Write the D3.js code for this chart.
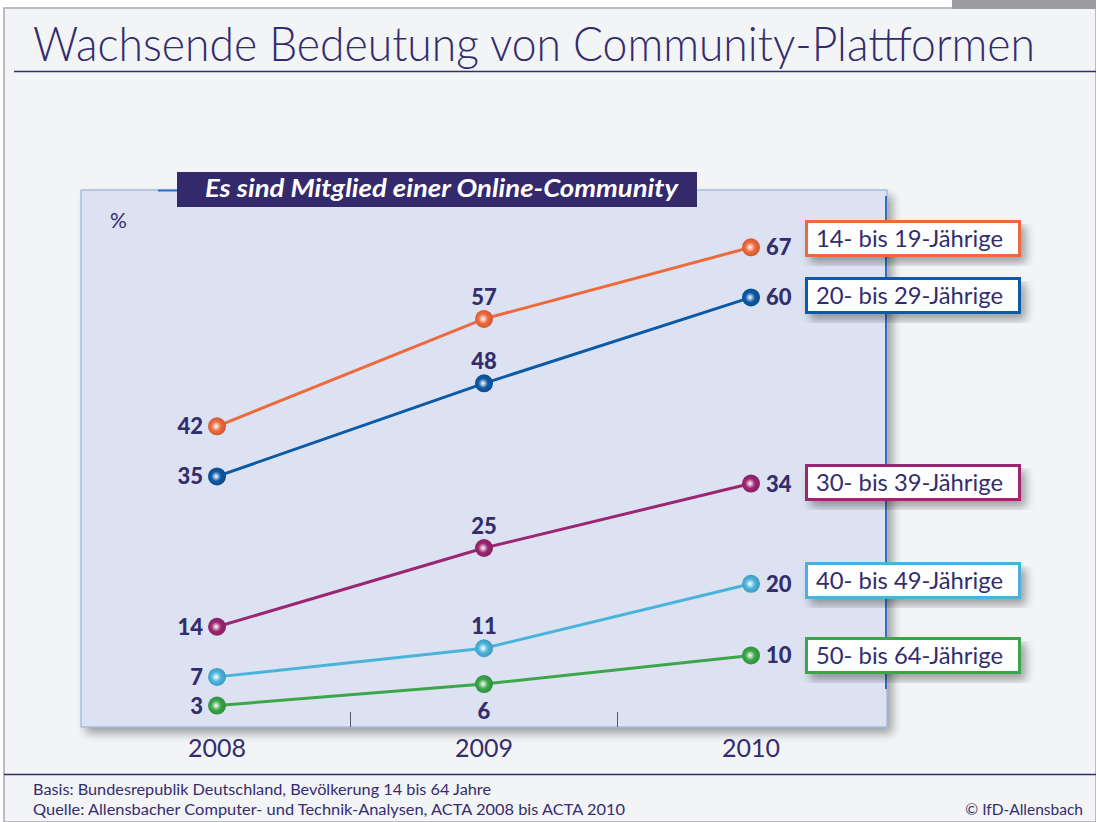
<!DOCTYPE html>
<html>
<head>
<meta charset="utf-8">
<script src="https://cdn.jsdelivr.net/npm/d3@7"></script>
<style>
  html, body { margin: 0; padding: 0; background: #fff; }
  text { font-family: "Lato", "Open Sans", sans-serif; }
</style>
</head>
<body>
<div id="chart"></div>
<script>
// data
var years = ["2008", "2009", "2010"];
var groups = ["14- bis 19-Jährige", "20- bis 29-Jährige", "30- bis 39-Jährige", "40- bis 49-Jährige", "50- bis 64-Jährige"];
var v14bis19 = [42, 57, 67];
var v20bis29 = [35, 48, 60];
var v30bis39 = [14, 25, 34];
var v40bis49 = [7, 11, 20];
var v50bis64 = [3, 6, 10];
var colors = ["#f0693d", "#0c5aa6", "#9c2672", "#4ab3dc", "#3ba64a"];
// where the 2009 label goes (above / below the point)
var midPos = ["above", "above", "above", "above", "below"];

var series = [v14bis19, v20bis29, v30bis39, v40bis49, v50bis64].map(function(v, i) {
  return { name: groups[i], values: v, color: colors[i], mid: midPos[i] };
});

var W = 1096, H = 822;
var ink = "#332d6e";

var svg = d3.select("#chart").append("svg")
  .attr("width", W).attr("height", H);

var defs = svg.append("defs");
var shadow = defs.append("filter").attr("id", "shadow")
  .attr("x", "-10%").attr("y", "-10%").attr("width", "130%").attr("height", "140%");
shadow.append("feGaussianBlur").attr("in", "SourceAlpha").attr("stdDeviation", 5);
shadow.append("feOffset").attr("dx", 5).attr("dy", 6).attr("result", "b");
shadow.append("feComponentTransfer").append("feFuncA").attr("type", "linear").attr("slope", 0.35);
var m = shadow.append("feMerge");
m.append("feMergeNode");
m.append("feMergeNode").attr("in", "SourceGraphic");

series.forEach(function(s, i) {
  var g = defs.append("radialGradient").attr("id", "ball" + i)
    .attr("cx", "0.45").attr("cy", "0.5").attr("r", "0.6").attr("fx", "0.45").attr("fy", "0.5");
  g.append("stop").attr("offset", "0%").attr("stop-color", "#ffffff");
  g.append("stop").attr("offset", "45%").attr("stop-color", s.color);
  g.append("stop").attr("offset", "100%").attr("stop-color", d3.color(s.color).darker(0.6));
});

// page frame
svg.append("rect").attr("width", W).attr("height", H).attr("fill", "#fff");
svg.append("rect").attr("x", 4).attr("y", 8).attr("width", W - 4).attr("height", H - 8)
  .attr("fill", "#f3f4f6").attr("stroke", "#a9a9ad").attr("stroke-width", 1.5);
svg.append("rect").attr("x", 952).attr("y", 0).attr("width", W - 952).attr("height", 9)
  .attr("fill", "#9b9ba0");

// title
svg.append("text").attr("x", 33).attr("y", 61)
  .attr("fill", ink).attr("font-size", 47).attr("font-weight", 300)
  .attr("textLength", 1002).attr("lengthAdjust", "spacingAndGlyphs")
  .text("Wachsende Bedeutung von Community-Plattformen");
svg.append("line").attr("x1", 14).attr("x2", W).attr("y1", 71.5).attr("y2", 71.5)
  .attr("stroke", ink).attr("stroke-width", 1.5);

// plot area
var plot = { left: 81, right: 887, top: 190, bottom: 727 };

var x = d3.scalePoint().domain(years).range([217, 751]);
var y = d3.scaleLinear().domain([0, 75]).range([plot.bottom, plot.top]);

svg.append("rect")
  .attr("x", plot.left).attr("y", plot.top)
  .attr("width", plot.right - plot.left).attr("height", plot.bottom - plot.top)
  .attr("fill", "#dce2f1").attr("stroke", "#86a9da").attr("stroke-width", 1)
  .attr("filter", "url(#shadow)");
svg.append("line").attr("x1", plot.right - 1).attr("x2", plot.right - 1)
  .attr("y1", plot.top + 6).attr("y2", plot.bottom - 38)
  .attr("stroke", "#2f6fbf").attr("stroke-width", 2);
svg.append("line").attr("x1", 158).attr("x2", 180).attr("y1", plot.top + 0.5).attr("y2", plot.top + 0.5)
  .attr("stroke", "#2f6fbf").attr("stroke-width", 2);

// header box
svg.append("rect").attr("x", 177).attr("y", 172).attr("width", 520).attr("height", 35)
  .attr("fill", "#33296b");
svg.append("text").attr("x", 205).attr("y", 197)
  .attr("fill", "#fff").attr("font-size", 24).attr("font-weight", "bold").attr("font-style", "italic")
  .attr("textLength", 473).attr("lengthAdjust", "spacingAndGlyphs")
  .text("Es sind Mitglied einer Online-Community");

svg.append("text").attr("x", 110).attr("y", 228).attr("fill", ink).attr("font-size", 21)
  .text("%");

// x axis: ticks between categories, labels below
var step = x.step();
var between = years.slice(1).map(function(d) { return x(d) - step / 2; });
svg.selectAll(".tick-mid").data(between).enter().append("line")
  .attr("x1", function(d) { return d; }).attr("x2", function(d) { return d; })
  .attr("y1", plot.bottom - 15).attr("y2", plot.bottom)
  .attr("stroke", "#555a70").attr("stroke-width", 1);
svg.selectAll(".year").data(years).enter().append("text")
  .attr("x", function(d) { return x(d); }).attr("y", 757)
  .attr("text-anchor", "middle").attr("fill", ink).attr("font-size", 25)
  .text(function(d) { return d; });

// lines
var line = d3.line()
  .x(function(d, i) { return x(years[i]); })
  .y(function(d) { return y(d); });

svg.selectAll(".series").data(series).enter().append("path")
  .attr("d", function(d) { return line(d.values); })
  .attr("fill", "none").attr("stroke", function(d) { return d.color; }).attr("stroke-width", 3);

series.forEach(function(s, si) {
  svg.selectAll(".pt" + si).data(s.values).enter().append("circle")
    .attr("cx", function(d, i) { return x(years[i]); })
    .attr("cy", function(d) { return y(d); })
    .attr("r", 9)
    .attr("fill", "url(#ball" + si + ")");

  svg.selectAll(".lb" + si).data(s.values).enter().append("text")
    .attr("x", function(d, i) {
      if (i === 0) return x(years[i]) - 14;
      if (i === 2) return x(years[i]) + 15;
      return x(years[i]);
    })
    .attr("y", function(d, i) {
      if (i === 1) return s.mid === "above" ? y(d) - 14 : y(d) + 35;
      return y(d) + 8;
    })
    .attr("text-anchor", function(d, i) { return i === 0 ? "end" : i === 2 ? "start" : "middle"; })
    .attr("fill", ink).attr("font-size", 22).attr("font-weight", 900)
    .text(function(d) { return d; });
});

// legend boxes next to the 2010 values
var legendY = [238, 295, 482, 580, 655];
var lg = svg.selectAll(".legend").data(series).enter().append("g")
  .attr("transform", function(d, i) { return "translate(805," + (legendY[i] - 18) + ")"; });
lg.append("rect").attr("x", 1.5).attr("y", 1.5).attr("width", 213).attr("height", 34)
  .attr("fill", "#fff").attr("stroke", function(d) { return d.color; }).attr("stroke-width", 3)
  .attr("filter", "url(#shadow)");
lg.append("text").attr("x", 11).attr("y", 27).attr("fill", ink).attr("font-size", 23)
  .attr("textLength", 187).attr("lengthAdjust", "spacingAndGlyphs")
  .text(function(d) { return d.name; });

// footer
svg.append("line").attr("x1", 4).attr("x2", W).attr("y1", 774.5).attr("y2", 774.5)
  .attr("stroke", ink).attr("stroke-width", 1.5);
svg.append("text").attr("x", 33).attr("y", 795).attr("fill", ink).attr("font-size", 15.5)
  .attr("textLength", 458).attr("lengthAdjust", "spacingAndGlyphs")
  .text("Basis: Bundesrepublik Deutschland, Bevölkerung 14 bis 64 Jahre");
svg.append("text").attr("x", 33).attr("y", 815).attr("fill", ink).attr("font-size", 15.5)
  .attr("textLength", 592).attr("lengthAdjust", "spacingAndGlyphs")
  .text("Quelle: Allensbacher Computer- und Technik-Analysen, ACTA 2008 bis ACTA 2010");
svg.append("text").attr("x", 1083).attr("y", 815).attr("text-anchor", "end").attr("fill", ink).attr("font-size", 15.5)
  .text("© IfD-Allensbach");
</script>
</body>
</html>
